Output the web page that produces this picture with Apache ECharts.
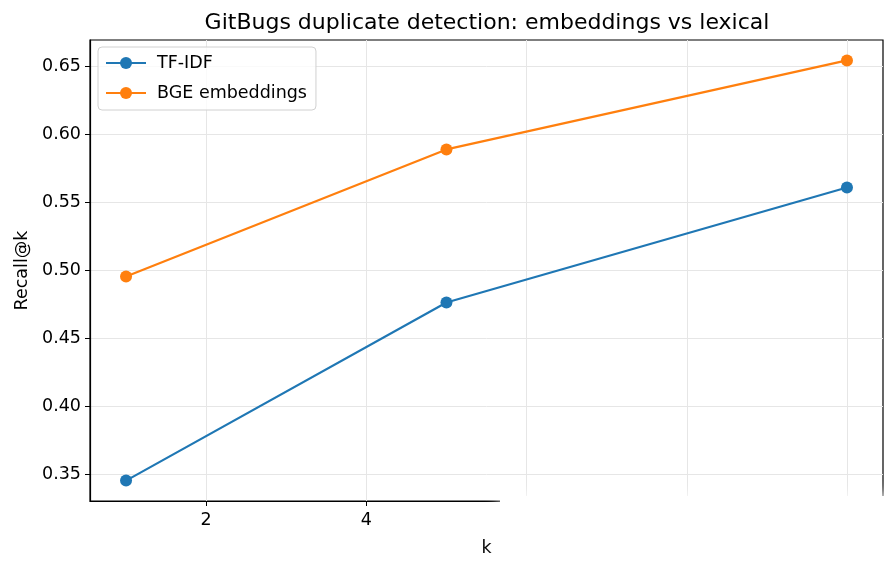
<!DOCTYPE html>
<html><head><meta charset="utf-8">
<script src="https://cdn.jsdelivr.net/npm/echarts@6/dist/echarts.min.js"></script>
<style>html,body{margin:0;padding:0;background:#fff}#c{width:895px;height:571px}</style>
</head><body><div id="c"></div>
<script>
const kValues = [1, 5, 10];
const tfidf = [0.3456, 0.4765, 0.561];
const bge = [0.4956, 0.589, 0.6544];
const xTicks = [2, 4, 6, 8, 10];
const yTicks = [0.35, 0.40, 0.45, 0.50, 0.55, 0.60, 0.65];

const FONT = 'DejaVu Sans';
const FS = 17.5;
const chart = echarts.init(document.getElementById('c'));
const mk = (name, vals, color) => ({
  name, type: 'line', data: kValues.map((k, i) => [k, vals[i]]),
  symbol: 'circle', symbolSize: 12, showSymbol: true,
  lineStyle: { width: 2.2, color }, itemStyle: { color },
  animation: false, z: 3
});
chart.setOption({
  animation: false,
  textStyle: { fontFamily: FONT },
  title: { text: 'GitBugs duplicate detection: embeddings vs lexical', left: 482, textAlign: 'center', top: 7,
    textStyle: { fontFamily: FONT, fontSize: 22, fontWeight: 'normal', color: '#000' } },
  legend: {
    left: 98, top: 47, orient: 'vertical', itemGap: 12, itemWidth: 40, itemHeight: 15,
    padding: [7, 9, 8, 7], borderColor: '#d0d0d0', borderWidth: 1, borderRadius: 4,
    backgroundColor: 'rgba(255,255,255,0.8)',
    textStyle: { fontFamily: FONT, fontSize: FS, color: '#000', padding: [0, 0, 0, 6] },
    data: ['TF-IDF', 'BGE embeddings']
  },
  grid: { left: 90, right: 12, top: 40, bottom: 70, containLabel: false, show: true,
    borderColor: '#000', borderWidth: 1.2, backgroundColor: 'transparent' },
  xAxis: {
    type: 'value', min: 0.55, max: 10.45, name: 'k', nameLocation: 'middle', nameGap: 38,
    nameTextStyle: { fontFamily: FONT, fontSize: FS, color: '#000' },
    axisLine: { show: true, onZero: false, lineStyle: { color: '#000', width: 1.2 } },
    axisTick: { show: true, length: 5, customValues: xTicks, lineStyle: { color: '#000' } },
    axisLabel: { customValues: xTicks, fontFamily: FONT, fontSize: FS, color: '#000', margin: 10 },
    splitLine: { show: true, lineStyle: { color: '#e6e6e6', width: 1 } }
  },
  yAxis: {
    type: 'value', min: 0.3306, max: 0.6694, name: 'Recall@k', nameLocation: 'middle', nameGap: 58,
    nameTextStyle: { fontFamily: FONT, fontSize: FS, color: '#000' },
    axisLine: { show: true, onZero: false, lineStyle: { color: '#000', width: 1.2 } },
    axisTick: { show: true, length: 5, customValues: yTicks, lineStyle: { color: '#000' } },
    axisLabel: { customValues: yTicks, fontFamily: FONT, fontSize: FS, color: '#000', margin: 9,
      formatter: v => v.toFixed(2) },
    splitLine: { show: true, lineStyle: { color: '#e6e6e6', width: 1 } }
  },
  series: [mk('TF-IDF', tfidf, '#1f77b4'), mk('BGE embeddings', bge, '#ff7f0e')],
  graphic: [
    { type: 'rect', shape: { x: 500, y: 496, width: 420, height: 100 }, style: { fill: '#fff', shadowBlur: 14, shadowColor: '#fff' }, z: 10, silent: true }
  ]
});
</script></body></html>
